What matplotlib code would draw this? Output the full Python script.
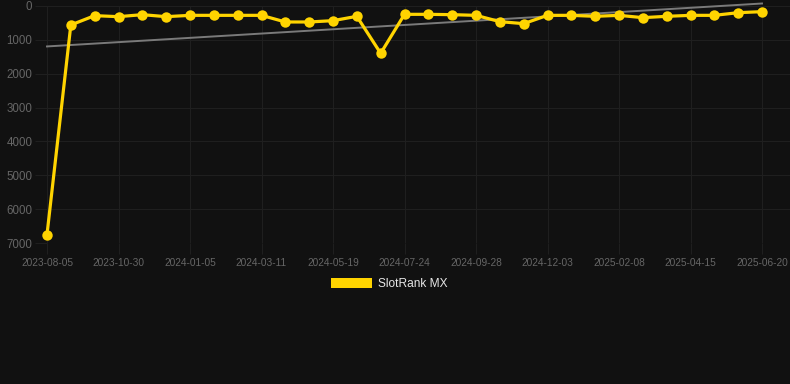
import numpy as np
import matplotlib
matplotlib.use("Agg")
import matplotlib.pyplot as plt
from matplotlib.patches import Patch

# dates of the ranking snapshots (only every third one is labelled)
dates = [
    "2023-08-05", "2023-09-03", "2023-10-01", "2023-10-30", "2023-11-21",
    "2023-12-14", "2024-01-05", "2024-01-27", "2024-02-18", "2024-03-11",
    "2024-04-03", "2024-04-26", "2024-05-19", "2024-06-10", "2024-07-02",
    "2024-07-24", "2024-08-15", "2024-09-06", "2024-09-28", "2024-10-20",
    "2024-11-11", "2024-12-03", "2024-12-25", "2025-01-17", "2025-02-08",
    "2025-03-02", "2025-03-24", "2025-04-15", "2025-05-07", "2025-05-29",
    "2025-06-20",
]
ranks = [
    6750, 560, 285, 315, 256, 315, 276, 276, 276, 276,
    472, 472, 433, 305, 1398, 246, 246, 256, 276, 462,
    521, 276, 276, 305, 276, 344, 305, 276, 276, 197,
    167,
]
series_name = "SlotRank MX"
y_ticks = [0, 1000, 2000, 3000, 4000, 5000, 6000, 7000]

BG = "#111111"
GOLD = "#FFD400"
GRID = "#1f1f1f"
TICK_TXT = "#666666"

plt.rcParams["font.family"] = ["Liberation Sans", "DejaVu Sans"]

W, H = 790, 384
fig = plt.figure(figsize=(W / 100, H / 100), dpi=100, facecolor=BG)

# axes in pixel coordinates
left, right, top, bottom = 47, 790, 6, 243
ax = fig.add_axes([left / W, 1 - bottom / H, (right - left) / W, (bottom - top) / H])
ax.set_facecolor(BG)

x = np.arange(len(ranks))

# linear trend of the ranks
coef = np.polyfit(x, ranks, 1)
ax.plot(x, np.polyval(coef, x), color="#7a7a7a", lw=1.4, zorder=2, clip_on=False)

ax.plot(x, ranks, color=GOLD, lw=2.3, marker="o", markersize=7.5,
        markeredgewidth=0, zorder=3, clip_on=False)

# data spans 47..762 px, the plot area runs on to 790
ax.set_xlim(0, (len(ranks) - 1) * (right - left) / (762 - left))
ax.set_ylim(7000, 0)

ax.set_xticks(x[::3])
ax.set_xticklabels(dates[::3])
ax.set_yticks(y_ticks)

ax.grid(True, color=GRID, lw=0.8)
ax.set_axisbelow(True)
for s in ax.spines.values():
    s.set_visible(False)

ax.tick_params(axis="x", colors=GRID, labelcolor=TICK_TXT, labelsize=7.3,
               length=8, width=0.8, pad=3)
ax.tick_params(axis="y", colors=GRID, labelcolor=TICK_TXT, labelsize=8.3,
               length=9, width=0.8, pad=1.5)

handle = Patch(facecolor=GOLD, edgecolor="none", label=series_name)
leg = fig.legend(handles=[handle], loc="center", bbox_to_anchor=(389.5 / W, 1 - 284 / H),
                 frameon=False, fontsize=8.6, handlelength=3.4, handleheight=1.0,
                 handletextpad=0.55)
for t in leg.get_texts():
    t.set_color("#e6e6e6")

fig.savefig("out.png", dpi=100, facecolor=BG)
